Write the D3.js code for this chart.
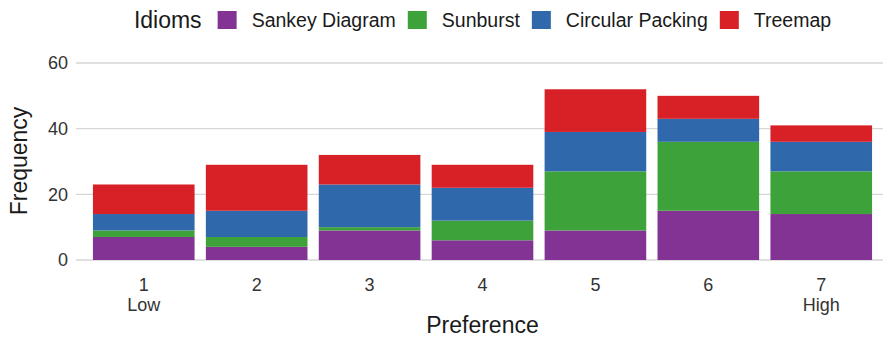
<!DOCTYPE html>
<html>
<head>
<meta charset="utf-8">
<script src="https://cdn.jsdelivr.net/npm/d3@7"></script>
<style>
  html, body { margin: 0; padding: 0; background: #fff; }
  svg { display: block; font-family: "Liberation Sans", Arial, sans-serif; }
</style>
</head>
<body>
<svg id="chart" width="883" height="338"></svg>
<script>
const categories = ["1", "2", "3", "4", "5", "6", "7"];
const subLabels = ["Low", "", "", "", "", "", "High"];
const seriesNames = ["Sankey Diagram", "Sunburst", "Circular Packing", "Treemap"];
const sankey   = [7, 4, 9, 6, 9, 15, 14];
const sunburst = [2, 3, 1, 6, 18, 21, 13];
const circular = [5, 8, 13, 10, 12, 7, 9];
const treemap  = [9, 14, 9, 7, 13, 7, 5];
const yTicks = [0, 20, 40, 60];
const colors = ["#833393", "#3ea23a", "#2f69ab", "#d82126"];

const seriesValues = [sankey, sunburst, circular, treemap];
const rows = categories.map((c, i) => {
  const r = { cat: c };
  seriesNames.forEach((s, k) => r[s] = seriesValues[k][i]);
  return r;
});

const svg = d3.select("#chart");
const x = d3.scaleBand().domain(categories).range([76, 889]).paddingInner(0.1).paddingOuter(0.15);
const y = d3.scaleLinear().domain([0, 60]).range([260, 63]);
const color = d3.scaleOrdinal().domain(seriesNames).range(colors);

// gridlines
svg.append("g").selectAll("line").data(yTicks).join("line")
  .attr("x1", 76).attr("x2", 889)
  .attr("y1", d => y(d)).attr("y2", d => y(d))
  .attr("stroke", "#d6d6d6").attr("stroke-width", 1.4);

// y tick labels
svg.append("g").selectAll("text").data(yTicks).join("text")
  .attr("x", 68).attr("y", d => y(d)).attr("dy", "0.36em")
  .attr("text-anchor", "end").attr("font-size", 18).attr("fill", "#333")
  .text(d => d);

// bars
const stacked = d3.stack().keys(seriesNames)(rows);
svg.append("g").selectAll("g").data(stacked).join("g")
  .attr("fill", d => color(d.key))
  .selectAll("rect").data(d => d).join("rect")
  .attr("x", d => x(d.data.cat))
  .attr("width", x.bandwidth())
  .attr("y", d => y(d[1]))
  .attr("height", d => y(d[0]) - y(d[1]));

// x tick labels
const xl = svg.append("g");
xl.selectAll("text.t").data(categories).join("text").attr("class", "t")
  .attr("x", d => x(d) + x.bandwidth() / 2).attr("y", 291)
  .attr("text-anchor", "middle").attr("font-size", 18).attr("fill", "#333")
  .text(d => d);
xl.selectAll("text.s").data(categories).join("text").attr("class", "s")
  .attr("x", d => x(d) + x.bandwidth() / 2).attr("y", 311)
  .attr("text-anchor", "middle").attr("font-size", 18).attr("fill", "#333")
  .text((d, i) => subLabels[i]);

// axis titles
svg.append("text").attr("x", 482.5).attr("y", 333)
  .attr("text-anchor", "middle").attr("font-size", 23).attr("fill", "#1a1a1a")
  .text("Preference");
svg.append("text").attr("transform", "translate(27,161) rotate(-90)")
  .attr("text-anchor", "middle").attr("font-size", 23).attr("fill", "#1a1a1a")
  .text("Frequency");

// legend
const lg = svg.append("g");
const title = lg.append("text").attr("y", 28).attr("font-size", 23).attr("fill", "#1a1a1a").text("Idioms");
let cx = title.node().getComputedTextLength() + 16;
seriesNames.forEach((s, k) => {
  lg.append("rect").attr("x", cx).attr("y", 11).attr("width", 19).attr("height", 18).attr("fill", color(s));
  const t = lg.append("text").attr("x", cx + 34).attr("y", 27).attr("font-size", 19.5).attr("fill", "#1a1a1a").text(s);
  cx += 34 + t.node().getComputedTextLength() + (k < seriesNames.length - 1 ? 12 : 0);
});
lg.attr("transform", `translate(${482.5 - cx / 2},0)`);
</script>
</body>
</html>
